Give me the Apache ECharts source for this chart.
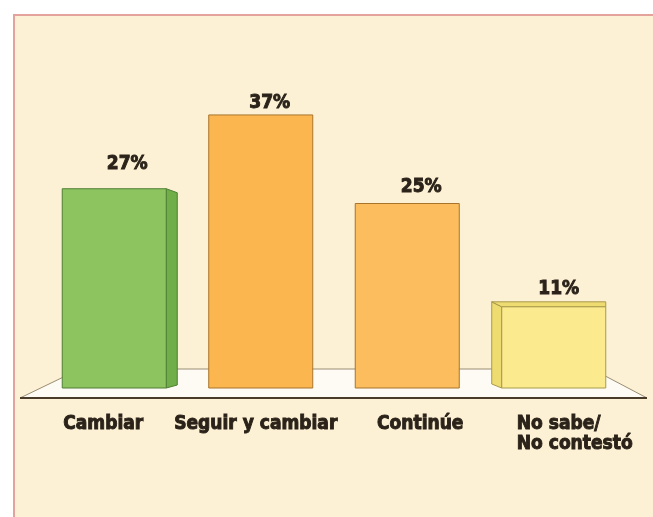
<!DOCTYPE html>
<html><head><meta charset="utf-8">
<script src="https://cdn.jsdelivr.net/npm/echarts@6/dist/echarts.min.js"></script>
<style>html,body{margin:0;padding:0;background:#fff}#c{width:653px;height:517px}</style>
</head><body><div id="c"></div>
<script>
const categories = ['Cambiar', 'Seguir y cambiar', 'Continúe', 'No sabe/\nNo contestó'];
const values = [27, 37, 25, 11];
const valueLabels = ['27%', '37%', '25%', '11%'];

const frontColors = ['#8dc460', '#fbb650', '#fcbd5e', '#fbeb8e'];
const sideColors = ['#6fae48', '#e9a040', '#eaa84c', '#efdc70'];
const edgeColors = ['#4f7f34', '#a8742c', '#a8742c', '#a89a4c'];
const sideKinds = ['right', 'none', 'none', 'left'];
const labelShiftX = [13, 9, 14, 5];
const labelLift = [15, 2, 7, 8];
const labelStyleKeys = ['s0', 's1', 's2', 's3'];
const FONT = '"DejaVu Sans Condensed", "Liberation Sans Narrow", sans-serif';
const INK = '#2b2319';

function renderFloor(params, api) {
  const cs = params.coordSys;
  const base = cs.y + cs.height;
  const L = cs.x, R = cs.x + cs.width;
  return {
    type: 'group',
    children: [
      { type: 'polygon', shape: { points: [[L + 39, base - 19], [R - 35, base - 19], [R + 20, base + 10], [L - 21, base + 10]] },
        style: { fill: '#fdfbf4', stroke: '#9a8c72', lineWidth: 1 } },
      { type: 'line', shape: { x1: L - 21, y1: base + 10, x2: R + 20, y2: base + 10 },
        style: { stroke: '#4a3a28', lineWidth: 2 } }
    ]
  };
}

function renderBar(params, api) {
  const i = api.value(0), v = api.value(1);
  const p0 = api.coord([i, 0]), p1 = api.coord([i, v]);
  const band = api.size([1, 0])[0];
  const w = band * 0.71;
  const x = p0[0] - w / 2, top = p1[1], bot = p0[1];
  const children = [];
  const kind = sideKinds[i];
  if (kind === 'right') {
    children.push({ type: 'polygon', shape: { points: [[x + w, top], [x + w + 11, top + 4], [x + w + 11, bot - 3], [x + w, bot]] },
      style: { fill: sideColors[i], stroke: edgeColors[i], lineWidth: 1 } });
  } else if (kind === 'left') {
    children.push({ type: 'polygon', shape: { points: [[x, top], [x - 10, top - 5], [x - 10, bot - 4], [x, bot]] },
      style: { fill: sideColors[i], stroke: edgeColors[i], lineWidth: 1 } });
    children.push({ type: 'polygon', shape: { points: [[x - 10, top - 5], [x + w, top - 5], [x + w, top], [x, top]] },
      style: { fill: sideColors[i], stroke: edgeColors[i], lineWidth: 1 } });
  }
  children.push({ type: 'rect', shape: { x: x, y: top, width: w, height: bot - top },
    style: { fill: frontColors[i], stroke: edgeColors[i], lineWidth: 1 } });
  children.push({ type: 'text', style: { text: valueLabels[i], x: p0[0] + labelShiftX[i], y: top - labelLift[i], align: 'center', verticalAlign: 'bottom',
    fontFamily: FONT, fontWeight: 'bold', fontSize: 19, fill: INK, stroke: INK, lineWidth: 0.9 } });
  return { type: 'group', children: children };
}

const chart = echarts.init(document.getElementById('c'));
chart.setOption({
  backgroundColor: '#ffffff',
  animation: false,
  graphic: [{ type: 'rect', left: 13, top: 14, z: -10, silent: true,
    shape: { width: 660, height: 520 }, style: { fill: '#fcf1d5', stroke: '#e3a39c', lineWidth: 2 } }],
  grid: { left: 41, right: 26, top: 19, bottom: 129 },
  xAxis: {
    type: 'category', data: categories,
    axisLine: { show: false }, axisTick: { show: false },
    axisLabel: {
      margin: 26, fontSize: 19, fontWeight: 'bold', fontFamily: FONT, color: INK, lineHeight: 20, interval: 0,
      textBorderColor: INK, textBorderWidth: 0.9,
      formatter: function (val, idx) {
        const k = labelStyleKeys[idx];
        return val.split('\n').map(function (s) { return '{' + k + '|' + s + '}'; }).join('\n');
      },
      rich: {
        s0: { padding: [0, 22, 0, 0] },
        s1: { padding: [0, 10, 0, 0] },
        s2: { padding: [0, 0, 0, 26] },
        s3: { width: 118, align: 'left', padding: [0, 0, 0, 44] }
      }
    }
  },
  yAxis: { type: 'value', min: 0, max: 50, show: false, splitLine: { show: false } },
  series: [
    { type: 'custom', renderItem: renderFloor, data: [[0, 0]], z: 1, silent: true },
    { type: 'custom', renderItem: renderBar, data: values.map((v, i) => [i, v]), encode: { x: 0, y: 1 }, z: 2 }
  ]
});
</script></body></html>
